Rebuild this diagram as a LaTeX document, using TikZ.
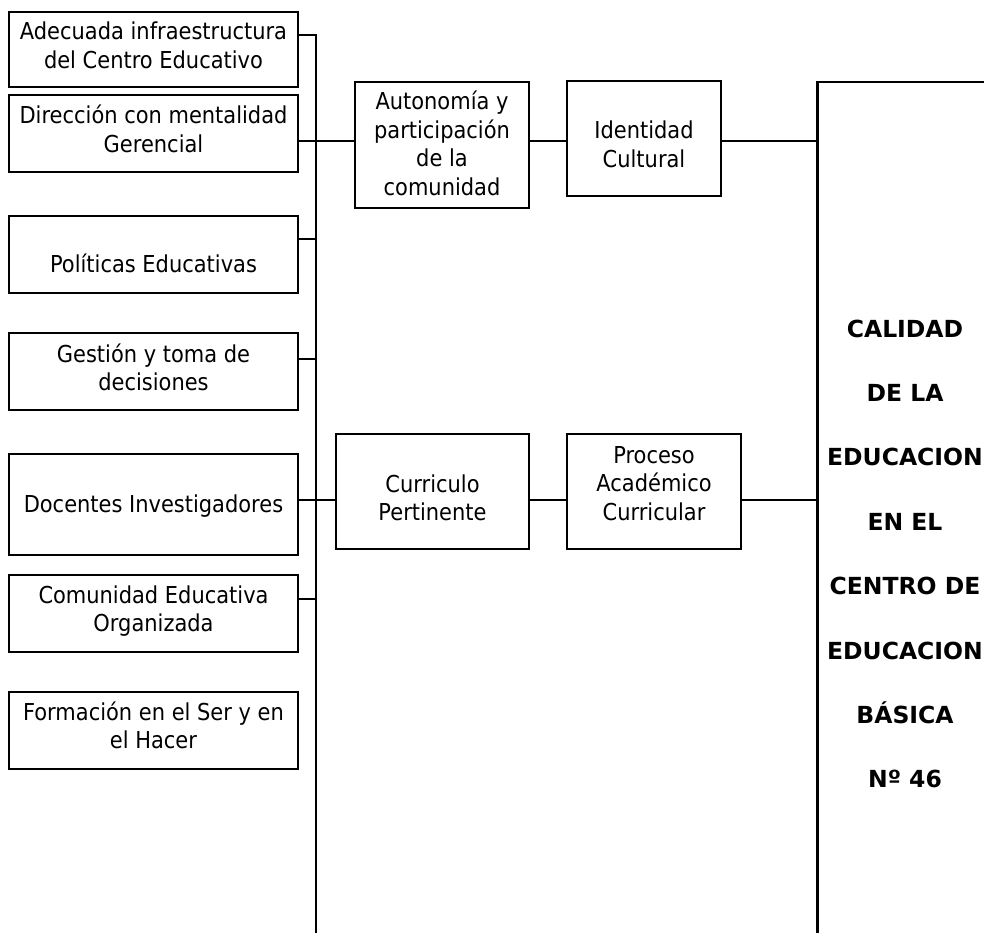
\documentclass[tikz,border=0pt]{standalone}
\usepackage{fontspec}
\newfontfamily\regfont[FakeStretch=0.9]{DejaVu Sans}
\newfontfamily\titlefont{DejaVu Sans}
\newcommand\boxtxt[4]{\parbox[c][#2][t]{#1}{\centering\rule{0pt}{#3}#4\par}}
\tikzset{
  box/.style={draw, line width=2.5pt, inner sep=0pt, font=\regfont\fontsize{23.3pt}{28.5pt}\selectfont},
  link/.style={line width=2.5pt, line join=miter},
  titletext/.style={font=\titlefont\bfseries\fontsize{23.5pt}{64.4pt}\selectfont, inner sep=0pt, anchor=base}
}
\begin{document}
\begin{tikzpicture}[x=1pt,y=-1pt]
\useasboundingbox (0,0) rectangle (984,933);
\clip (0,0) rectangle (984,933);

% left column
\node[box] (b1) at (153.5,49.5) {\boxtxt{289pt}{75pt}{28pt}{Adecuada infraestructura\\del Centro Educativo}};
\node[box] (b2) at (153.5,133.5) {\boxtxt{289pt}{77pt}{29pt}{Dirección con mentalidad\\Gerencial}};
\node[box] (b3) at (153.5,254.5) {\boxtxt{289pt}{77pt}{57pt}{Políticas Educativas}};
\node[box] (b4) at (153.5,371.5) {\boxtxt{289pt}{77pt}{29pt}{Gestión y toma de\\decisiones}};
\node[box] (b5) at (153.5,504.5) {\boxtxt{289pt}{101pt}{58pt}{Docentes Investigadores}};
\node[box] (b6) at (153.5,613.5) {\boxtxt{289pt}{77pt}{28pt}{Comunidad Educativa\\Organizada}};
\node[box] (b7) at (153.5,730.5) {\boxtxt{289pt}{77pt}{28pt}{Formación en el Ser y en\\el Hacer}};

% middle
\node[box] (a1) at (442,145) {\boxtxt{174pt}{126pt}{28pt}{Autonomía y\\participación\\de la\\comunidad}};
\node[box] (a2) at (644,138.5) {\boxtxt{154pt}{115pt}{58pt}{Identidad\\Cultural}};
\node[box] (c1) at (432.5,491.5) {\boxtxt{193pt}{115pt}{58pt}{Curriculo\\Pertinente}};
\node[box] (c2) at (654,491.5) {\boxtxt{174pt}{115pt}{29pt}{Proceso\\Académico\\Curricular}};

% big box (extends past the right and bottom edges)
\node[draw, line width=2.5pt, inner sep=0pt, minimum width=300pt, minimum height=900pt, anchor=north west] (big) at (816,81) {};
\node[titletext] (title) at (905,337) {\parbox[t]{170pt}{\centering CALIDAD\\DE LA\\EDUCACION\\EN EL\\CENTRO DE\\EDUCACION\\BÁSICA\\Nº 46\par}};

% bus
\coordinate (j1) at (316,35);
\coordinate (j2) at (316,141);
\coordinate (j3) at (316,239);
\coordinate (j4) at (316,359);
\coordinate (j5) at (316,500);
\coordinate (j6) at (316,599);
\coordinate (jend) at (316,940);

\draw[link] (b1.east |- j1) -- (j1) -- (jend);
\draw[link] (b2.east |- j2) -- (a1.west |- j2);
\draw[link] (a1.east |- j2) -- (a2.west |- j2);
\draw[link] (a2.east |- j2) -- (big.west |- j2);
\draw[link] (b3.east |- j3) -- (j3);
\draw[link] (b4.east |- j4) -- (j4);
\draw[link] (b5.east |- j5) -- (c1.west |- j5);
\draw[link] (c1.east |- j5) -- (c2.west |- j5);
\draw[link] (c2.east |- j5) -- (big.west |- j5);
\draw[link] (b6.east |- j6) -- (j6);
\end{tikzpicture}
\end{document}
